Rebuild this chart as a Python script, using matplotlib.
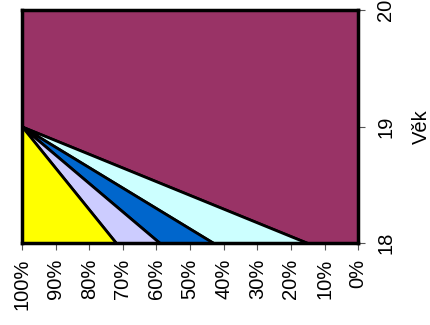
import numpy as np
import matplotlib
matplotlib.use("Agg")
import matplotlib.pyplot as plt

plt.rcParams['font.family'] = ['Liberation Sans', 'DejaVu Sans']

# age categories (right axis)
vek = [18, 19, 20]
# share of each group per age, in percent (stacked from the 0% side)
fialova = [15, 100, 100]
azurova = [28, 0, 0]
modra = [16, 0, 0]
levandulova = [13, 0, 0]
zluta = [28, 0, 0]

serie = [fialova, azurova, modra, levandulova, zluta]
barvy = ['#993366', '#CCFFFF', '#0066CC', '#CCCCFF', '#FFFF00']

x_ticks = list(range(0, 101, 10))
x_labels = ['%d%%' % t for t in x_ticks]

fig = plt.figure(figsize=(4.31, 3.25), dpi=100)
ax = fig.add_axes([0.051, 0.252, 0.78, 0.717])

spodek = np.zeros(len(vek))
for hodnoty, barva in zip(serie, barvy):
    vrch = spodek + np.array(hodnoty)
    ax.fill_betweenx(vek, spodek, vrch, facecolor=barva, edgecolor='black', linewidth=2)
    spodek = vrch

ax.set_xlim(100, 0)
ax.set_ylim(18, 20)
ax.set_xticks(x_ticks)
ax.set_xticklabels(x_labels, rotation=90, fontsize=14.5)
ax.set_yticks(vek)
ax.set_yticklabels([str(v) for v in vek], rotation=90, fontsize=14.5, va='center')
ax.yaxis.tick_right()
ax.yaxis.set_label_position('right')
ax.set_ylabel('Věk', fontsize=14.5, labelpad=12)
ax.tick_params(direction='out', length=5, width=0.8, color='#555555')
ax.tick_params(axis='x', pad=6)
ax.tick_params(axis='y', pad=8)

for s in ax.spines.values():
    s.set_linewidth(2.5)
    s.set_color('black')

fig.savefig('out.png', dpi=100)
